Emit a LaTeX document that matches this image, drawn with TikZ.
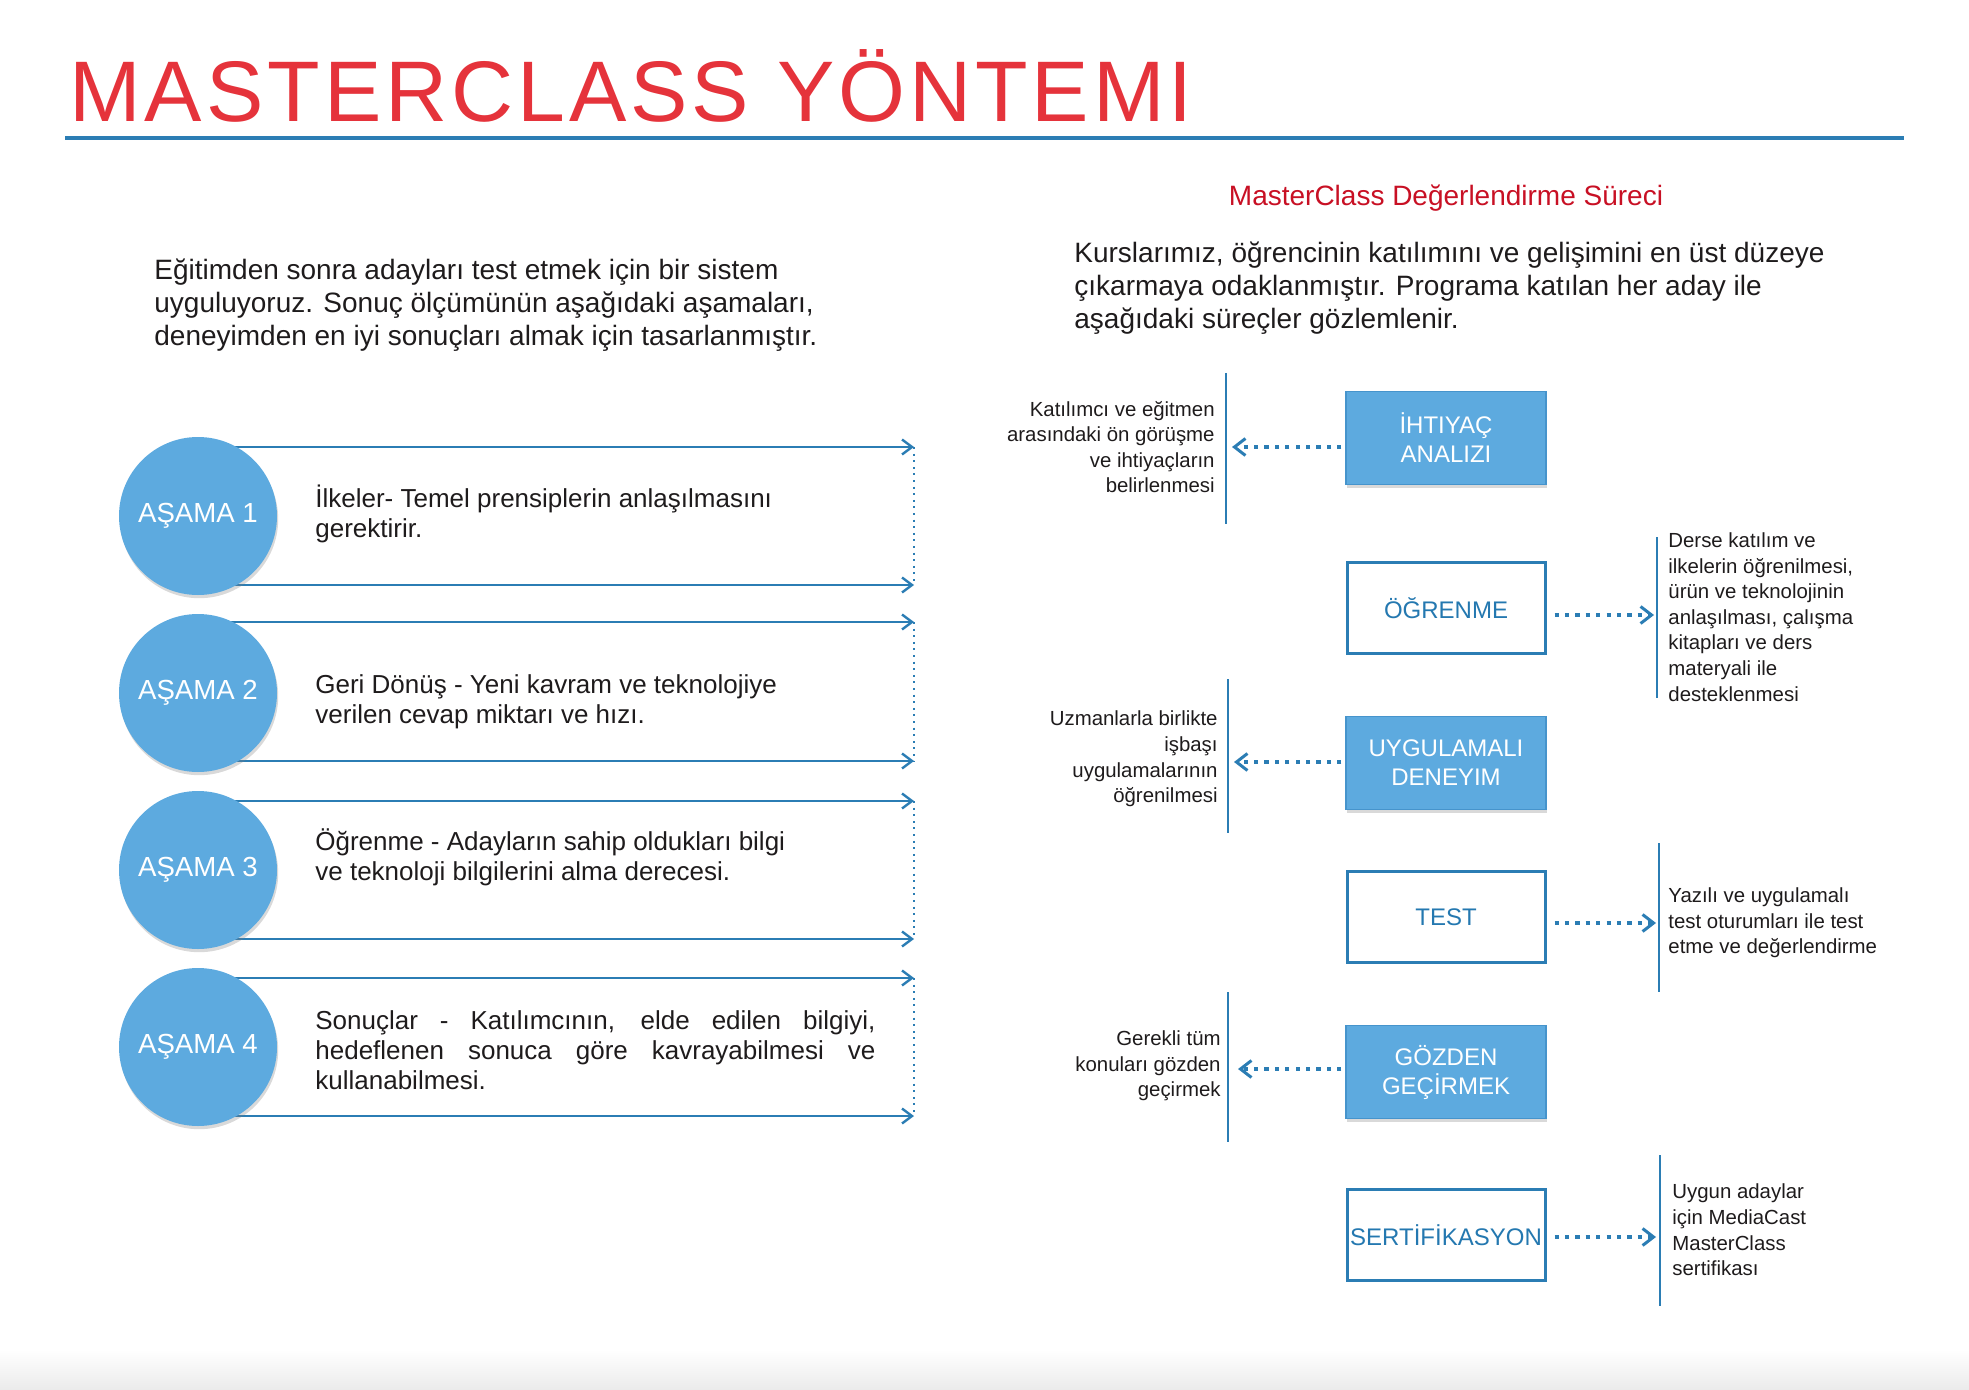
\documentclass[tikz,border=0pt]{standalone}
\usepackage{fontspec}
\setmainfont{Liberation Sans}
\newfontfamily\titlefont[LetterSpace=4.6]{Liberation Sans}
\usetikzlibrary{arrows.meta,shadows,backgrounds}
\definecolor{titlered}{RGB}{229,51,59}
\definecolor{subred}{RGB}{200,16,36}
\definecolor{lineblue}{RGB}{43,125,180}
\definecolor{circblue}{RGB}{93,170,223}
\definecolor{boxedge}{RGB}{70,148,204}
\definecolor{boxtext}{RGB}{36,120,176}
\definecolor{textgray}{RGB}{30,27,28}
\begin{document}
\begin{tikzpicture}[x=0.5pt,y=-0.5pt,
  stagecircle/.style={circle, fill=circblue, minimum size=79pt, inner sep=0pt, text=white,
    font=\fontsize{13.8}{16}\selectfont,
    drop shadow={shadow xshift=0.6pt, shadow yshift=-1.6pt, opacity=0.3}},
  stageline/.style={draw=lineblue, line width=1.4pt, -{Straight Barb[length=5pt,width=7.5pt,line width=1.2pt]}},
  dotv/.style={draw=lineblue, line width=1pt, dash pattern=on 1pt off 2.3pt},
  stagetext/.style={anchor=west, align=left, inner sep=0pt, text=textgray, font=\fontsize{13}{15}\selectfont},
  introtext/.style={anchor=west, align=left, inner sep=0pt, text=textgray, font=\fontsize{14}{16.5}\selectfont},
  fillbox/.style={rectangle, minimum width=100pt, minimum height=46.5pt, inner sep=0pt, fill=circblue,
    draw=boxedge, line width=0.6pt, text=white, align=center, font=\fontsize{12}{14.5}\selectfont,
    drop shadow={shadow xshift=0.3pt, shadow yshift=-1.5pt, opacity=0.3}},
  outbox/.style={rectangle, minimum width=99pt, minimum height=45.5pt, inner sep=0pt, fill=white,
    draw=lineblue, line width=1.5pt, text=boxtext, align=center, font=\fontsize{12}{14.5}\selectfont},
  dotarrow/.style={draw=lineblue, line width=2.1pt, dash pattern=on 2.1pt off 3.1pt,
    -{Straight Barb[length=5.5pt,width=8.5pt,line width=1.5pt]}},
  vline/.style={draw=lineblue, line width=1.3pt},
  sidetext/.style={inner sep=0pt, text=textgray, font=\fontsize{10.2}{12.8}\selectfont}
]
\useasboundingbox (0,0) rectangle (1969,1390);
\shade[top color=white, bottom color=black!8] (0,1350) rectangle (1969,1390);

% title
\node[anchor=base west, inner sep=0pt, text=titlered, font=\titlefont\fontsize{43}{48}\selectfont] (title) at (69,122) {MASTERCLASS YÖNTEMI};
\coordinate (ul1) at (65,138);
\coordinate (ul2) at (1904,138);
\draw[draw=lineblue, line width=2pt] (ul1) -- (ul2);

% intros
\node[introtext] (introL) at (154,305) {Eğitimden sonra adayları test etmek için bir sistem\\uyguluyoruz. Sonuç ölçümünün aşağıdaki aşamaları,\\deneyimden en iyi sonuçları almak için tasarlanmıştır.};
\node[inner sep=0pt, text=subred, font=\fontsize{14}{16.5}\selectfont] (sub) at (1446,198.5) {MasterClass Değerlendirme Süreci};
\node[introtext] (introR) at (1074,288.5) {Kurslarımız, öğrencinin katılımını ve gelişimini en üst düzeye\\çıkarmaya odaklanmıştır. Programa katılan her aday ile\\aşağıdaki süreçler gözlemlenir.};

% stages
\node[stagecircle] (c1) at (198,516) {AŞAMA 1};
\node[stagecircle] (c2) at (198,693) {AŞAMA 2};
\node[stagecircle] (c3) at (198,870) {AŞAMA 3};
\node[stagecircle] (c4) at (198,1047) {AŞAMA 4};

\coordinate (e1t) at (914,447);  \coordinate (e1b) at (914,585);
\coordinate (e2t) at (914,622);  \coordinate (e2b) at (914,761);
\coordinate (e3t) at (914,801);  \coordinate (e3b) at (914,939);
\coordinate (e4t) at (914,978);  \coordinate (e4b) at (914,1116);

\begin{scope}[on background layer]
\foreach \i in {1,2,3,4}{
  \draw[stageline] (c\i.center |- e\i t) -- (e\i t);
  \draw[stageline] (c\i.center |- e\i b) -- (e\i b);
  \draw[dotv] (e\i t) -- (e\i b);
}
\end{scope}

\node[stagetext] (t1) at (315,514) {İlkeler- Temel prensiplerin anlaşılmasını\\gerektirir.};
\node[stagetext] (t2) at (315,701.5) {Geri Dönüş - Yeni kavram ve teknolojiye\\verilen cevap miktarı ve hızı.};
\node[stagetext] (t3) at (315,857.5) {Öğrenme - Adayların sahip oldukları bilgi\\ve teknoloji bilgilerini alma derecesi.};
\node[stagetext] (t4) at (315,1050) {\makebox[280pt][s]{Sonuçlar - Katılımcının, elde edilen bilgiyi,}\\\makebox[280pt][s]{hedeflenen sonuca göre kavrayabilmesi ve}\\kullanabilmesi.};

% process boxes
\node[fillbox] (b1) at (1446,438) {İHTIYAÇ\\ANALIZI};
\node[outbox]  (b2) at (1446,608) {ÖĞRENME};
\node[fillbox] (b3) at (1446,763) {UYGULAMALI\\DENEYIM};
\node[outbox]  (b4) at (1446,917) {TEST};
\node[fillbox] (b5) at (1446,1072) {GÖZDEN\\GEÇİRMEK};
\node[outbox]  (b6) at (1446,1235) {SERTİFİKASYON};

% vertical lines
\coordinate (v1a) at (1226,373);  \coordinate (v1b) at (1226,524);
\coordinate (v2a) at (1657,537);  \coordinate (v2b) at (1657,698);
\coordinate (v3a) at (1228,679);  \coordinate (v3b) at (1228,833);
\coordinate (v4a) at (1659,843);  \coordinate (v4b) at (1659,992);
\coordinate (v5a) at (1228,992);  \coordinate (v5b) at (1228,1142);
\coordinate (v6a) at (1660,1155); \coordinate (v6b) at (1660,1306);
\foreach \i in {1,...,6}{\draw[vline] (v\i a) -- (v\i b);}

% arrow tips
\coordinate (p1) at (1232,447);
\coordinate (p2) at (1654,615);
\coordinate (p3) at (1234,762);
\coordinate (p4) at (1656,923);
\coordinate (p5) at (1238,1069);
\coordinate (p6) at (1656,1237);
\draw[dotarrow] ([xshift=-2pt]b1.west |- p1) -- (p1);
\draw[dotarrow] ([xshift=4pt]b2.east |- p2) -- (p2);
\draw[dotarrow] ([xshift=-2pt]b3.west |- p3) -- (p3);
\draw[dotarrow] ([xshift=4pt]b4.east |- p4) -- (p4);
\draw[dotarrow] ([xshift=-2pt]b5.west |- p5) -- (p5);
\draw[dotarrow] ([xshift=4pt]b6.east |- p6) -- (p6);

% side texts
\node[sidetext, anchor=east, align=right] (n1) at (1215,447) {Katılımcı ve eğitmen\\arasındaki ön görüşme\\ve ihtiyaçların\\belirlenmesi};
\node[sidetext, anchor=west, align=left] (n2) at (1668,617) {Derse katılım ve\\ilkelerin öğrenilmesi,\\ürün ve teknolojinin\\anlaşılması, çalışma\\kitapları ve ders\\materyali ile\\desteklenmesi};
\node[sidetext, anchor=east, align=right] (n3) at (1218,759) {Uzmanlarla birlikte\\işbaşı\\uygulamalarının\\öğrenilmesi};
\node[sidetext, anchor=west, align=left] (n4) at (1668,923) {Yazılı ve uygulamalı\\test oturumları ile test\\etme ve değerlendirme};
\node[sidetext, anchor=east, align=right] (n5) at (1221,1066) {Gerekli tüm\\konuları gözden\\geçirmek};
\node[sidetext, anchor=west, align=left] (n6) at (1672,1230) {Uygun adaylar\\için MediaCast\\MasterClass\\sertifikası};
\end{tikzpicture}
\end{document}
